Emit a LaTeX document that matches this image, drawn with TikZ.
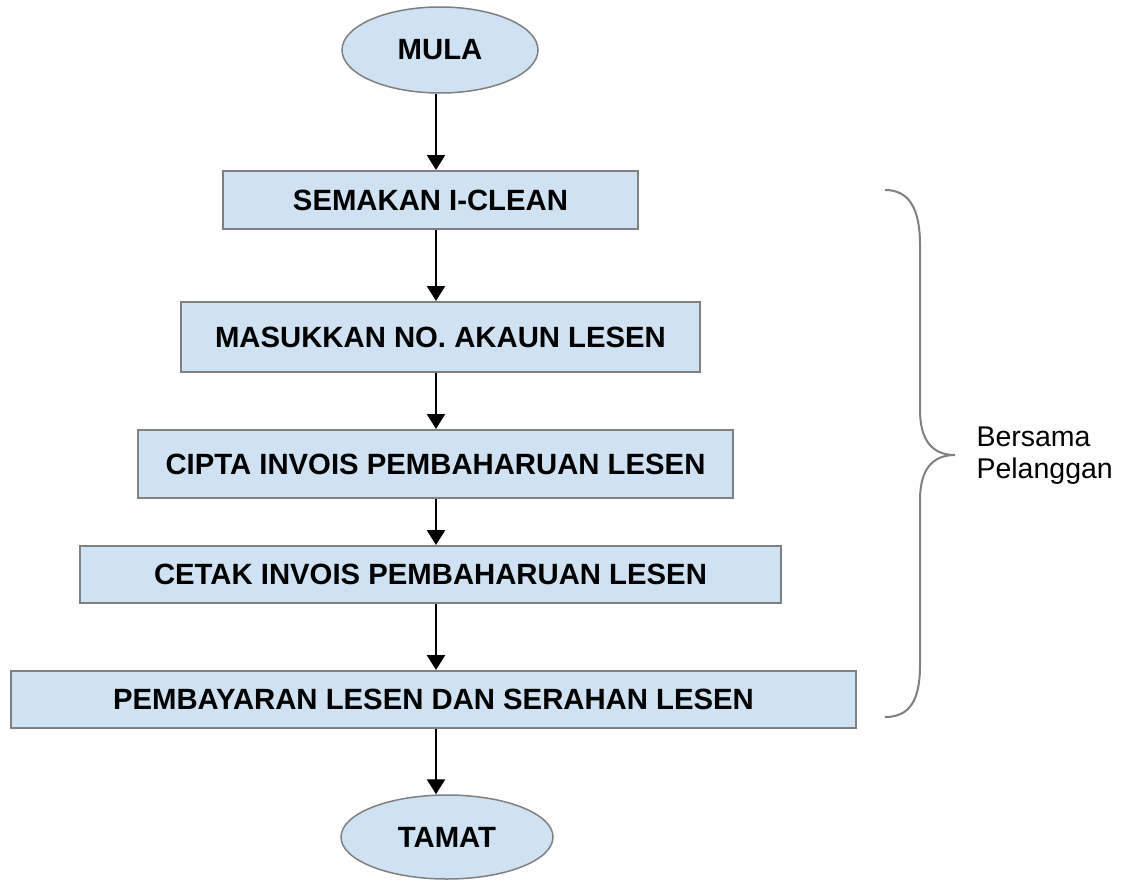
\documentclass[tikz,border=0pt]{standalone}
\usepackage{fontspec}
\setmainfont{Liberation Sans}
\usetikzlibrary{shapes, arrows.meta, positioning}
\definecolor{boxblue}{HTML}{CFE2F3}
\definecolor{edgegray}{HTML}{808080}
\tikzset{
	term/.style={
		ellipse,
		draw=edgegray,
		fill=boxblue,
		line width=1.5pt,
		minimum width=196pt,
		minimum height=86pt,
		inner sep=0pt,
		font=\bfseries\fontsize{29.3}{35}\selectfont
	},
	proc/.style={
		rectangle,
		draw=edgegray,
		fill=boxblue,
		line width=2pt,
		inner sep=0pt,
		font=\bfseries\fontsize{29.3}{35}\selectfont
	},
	flow/.style={
		-{Triangle[length=15pt,width=18pt]},
		line width=2.5pt
	},
	brace/.style={
		draw=edgegray,
		line width=2pt
	}
}

\begin{document}
\begin{tikzpicture}[x=1pt, y=-1pt]
		\useasboundingbox (0,0) rectangle (1131,880);
		
		\node [term] (mula) at (440,50) {MULA};
		\node [proc, minimum width=415pt, minimum height=58pt] (semak) at (430.5,200) {SEMAKAN I-CLEAN};
		\node [proc, minimum width=519pt, minimum height=70pt] (masuk) at (440.5,337) {MASUKKAN NO. AKAUN LESEN};
		\node [proc, minimum width=595pt, minimum height=68pt] (cipta) at (435.5,464) {CIPTA INVOIS PEMBAHARUAN LESEN};
		\node [proc, minimum width=701pt, minimum height=57pt] (cetak) at (430.5,574.5) {CETAK INVOIS PEMBAHARUAN LESEN};
		\node [proc, minimum width=845pt, minimum height=57pt] (bayar) at (433.5,699.5) {PEMBAYARAN LESEN DAN SERAHAN LESEN};
		\node [term, minimum width=212pt, minimum height=84pt] (tamat) at (447,837) {TAMAT};
		
		\coordinate (spine) at (436,0);
		\draw [flow] (spine |- mula.south) -- (spine |- semak.north);
		\draw [flow] (spine |- semak.south) -- (spine |- masuk.north);
		\draw [flow] (spine |- masuk.south) -- (spine |- cipta.north);
		\draw [flow] (spine |- cipta.south) -- (spine |- cetak.north);
		\draw [flow] (spine |- cetak.south) -- (spine |- bayar.north);
		\draw [flow] (spine |- bayar.south) -- (spine |- tamat.north);
		
		\draw [brace] (885,190) .. controls (910,190) and (920,210) .. (920,245) -- (920,410)
			.. controls (920,440) and (932,455) .. (955,455)
			.. controls (932,455) and (920,470) .. (920,500) -- (920,665)
			.. controls (920,700) and (910,717) .. (885,717);
		\node [right, align=left, font=\fontsize{28.5}{32}\selectfont] (catat) at (973,456) {Bersama\\Pelanggan};
		\end{tikzpicture}
\end{document}
